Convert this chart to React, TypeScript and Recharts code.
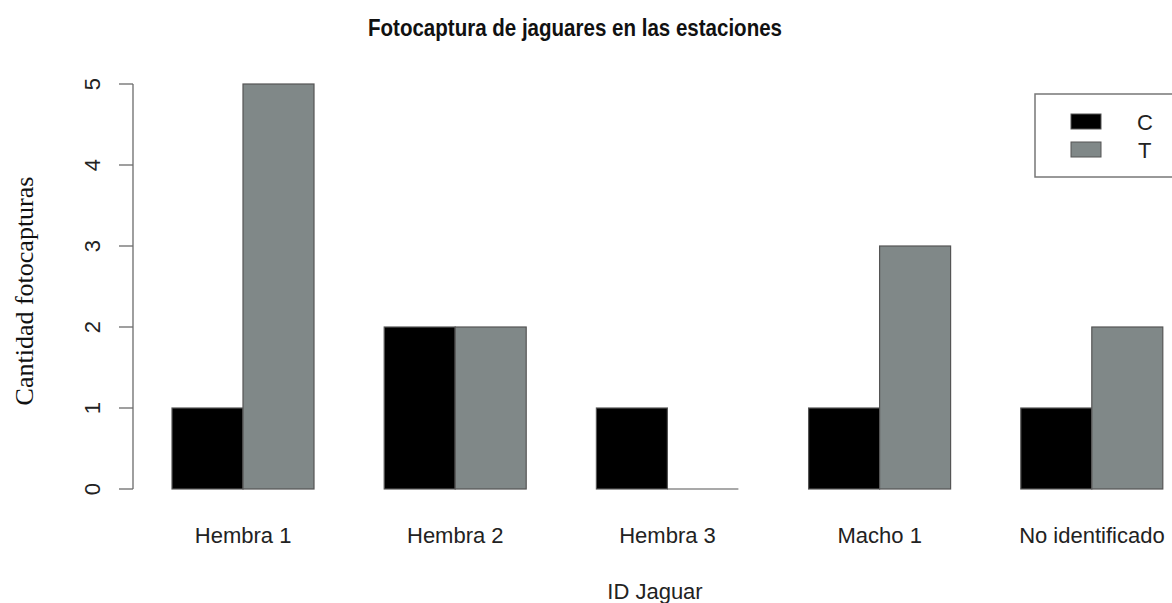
import { BarChart, Bar, XAxis, YAxis } from 'recharts'

const jaguars = ['Hembra 1', 'Hembra 2', 'Hembra 3', 'Macho 1', 'No identificado']
const seriesC = [1, 2, 1, 1, 1]
const seriesT = [5, 2, 0, 3, 2]
const yTicks = [0, 1, 2, 3, 4, 5]

const data = jaguars.map((name, i) => ({ name, C: seriesC[i], T: seriesT[i] }))

const SANS = '"Liberation Sans", Arial, sans-serif'
const SERIF = '"Liberation Serif", "Times New Roman", serif'
const GRAY = '#808888'
const EDGE = '#555'

function BarShape(props: any) {
  const { x, y, width, height, fill } = props
  if (!height) {
    return <line x1={x} x2={x + width} y1={y} y2={y} stroke={EDGE} strokeWidth={1.2} />
  }
  return <rect x={x} y={y} width={width} height={height} fill={fill} stroke={EDGE} strokeWidth={1.2} />
}

function XTick({ x, y, payload }: any) {
  return (
    <text x={x} y={y + 54} textAnchor="middle" fontSize={22} fontFamily={SANS} fill="#222">
      {payload.value}
    </text>
  )
}

function YTick({ x, y, payload }: any) {
  const tx = x - 19
  return (
    <text x={tx} y={y} transform={`rotate(-90, ${tx}, ${y})`} textAnchor="middle" fontSize={22} fontFamily={SANS} fill="#222">
      {payload.value}
    </text>
  )
}

// legend box, drawn over the chart (its right edge is cut off like the original)
function LegendBox() {
  return (
    <svg width={160} height={86} style={{ position: 'absolute', left: 1034, top: 93, zIndex: 2 }}>
      <rect x={1} y={1} width={200} height={83} fill="#fff" stroke="#777" strokeWidth={1.5} />
      <rect x={37} y={21} width={30} height={15} fill="#000" stroke={EDGE} strokeWidth={1} />
      <rect x={37} y={49} width={30} height={15} fill={GRAY} stroke={EDGE} strokeWidth={1} />
      <text x={103} y={37} fontSize={22} fontFamily={SANS} fill="#222">C</text>
      <text x={104} y={65} fontSize={22} fontFamily={SANS} fill="#222">T</text>
    </svg>
  )
}

export default function App() {
  return (
    <div style={{ position: 'absolute', left: 0, top: 0, width: 1172, height: 603, overflow: 'hidden', background: '#fff' }}>
      <svg width={1172} height={60} style={{ position: 'absolute', left: 0, top: 0, zIndex: 2 }}>
        <text x={575} y={36} textAnchor="middle" fontSize={24} fontWeight="bold" fontFamily={SANS} textLength={414} lengthAdjust="spacingAndGlyphs" fill="#111">
          Fotocaptura de jaguares en las estaciones
        </text>
      </svg>
      <LegendBox />
      <BarChart
        width={1240}
        height={603}
        data={data}
        margin={{ top: 84, right: 42, left: 0, bottom: 54 }}
        barGap={0}
        barSize={71}
      >
        <XAxis
          dataKey="name"
          axisLine={false}
          tickLine={false}
          tickSize={0}
          tickMargin={0}
          height={60}
          padding={{ left: 4, right: 0 }}
          tick={<XTick />}
          interval={0}
          label={() => (
            <text x={655} y={599} textAnchor="middle" fontSize={22} fontFamily={SANS} fill="#222">
              ID Jaguar
            </text>
          )}
        />
        <YAxis
          width={133}
          domain={[0, 5]}
          ticks={yTicks}
          interval={0}
          tickSize={14}
          tickMargin={0}
          axisLine={{ stroke: '#6b6b6b', strokeWidth: 1.3 }}
          tickLine={{ stroke: '#6b6b6b', strokeWidth: 1.3 }}
          tick={<YTick />}
          label={() => (
            <text x={33} y={291} transform="rotate(-90, 33, 291)" textAnchor="middle" fontSize={26} fontFamily={SERIF} fill="#111">
              Cantidad fotocapturas
            </text>
          )}
        />
        <Bar dataKey="C" fill="#000" shape={<BarShape />} isAnimationActive={false} />
        <Bar dataKey="T" fill={GRAY} shape={<BarShape />} isAnimationActive={false} />
      </BarChart>
    </div>
  )
}
